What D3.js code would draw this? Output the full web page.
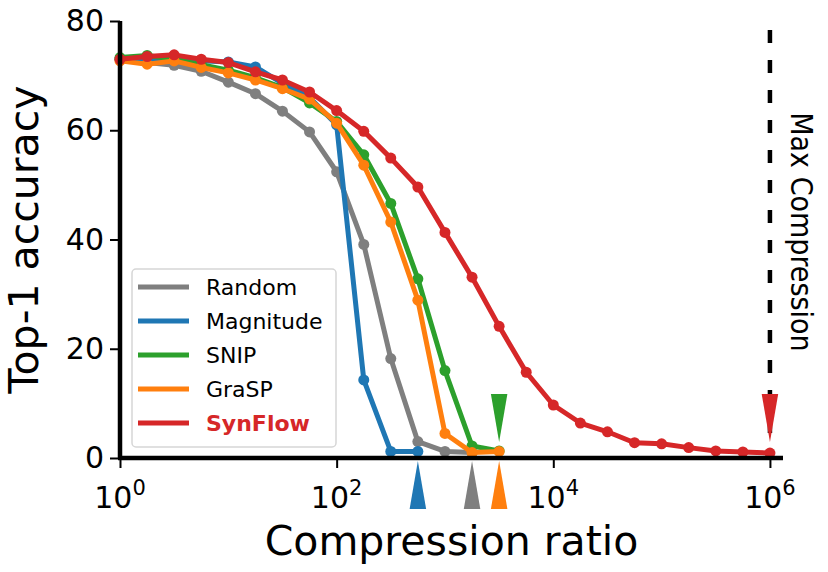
<!DOCTYPE html>
<html>
<head>
<meta charset="utf-8">
<script src="https://cdn.jsdelivr.net/npm/d3@7"></script>
<style>
  body { margin: 0; background: #fff; }
  svg { font-family: "DejaVu Sans", sans-serif; }
</style>
</head>
<body>
<script>
// compression ratios (log-spaced, quarter decades)
const ratios = [1, 1.78, 3.16, 5.62, 10, 17.8, 31.6, 56.2, 100, 178, 316, 562, 1000,
                1778, 3162, 5623, 10000, 17783, 31623, 56234, 100000, 177828, 316228, 562341, 1000000];

const methods = ['Random', 'Magnitude', 'SNIP', 'GraSP', 'SynFlow'];
const colors = ['#7f7f7f', '#1f77b4', '#2ca02c', '#ff7f0e', '#d62728'];

const randomAcc = [73.0, 72.4, 71.9, 70.8, 68.8, 66.7, 63.5, 59.7, 52.4, 39.1, 18.2, 3.0, 1.2, 1.0];
const magnitudeAcc = [73.0, 73.0, 73.0, 72.7, 72.5, 71.6, 68.6, 66.0, 61.0, 14.3, 1.2, 1.2];
const snipAcc = [73.3, 73.7, 73.0, 72.0, 71.0, 69.6, 67.8, 65.0, 61.6, 55.5, 46.6, 32.8, 16.0, 2.2, 1.3];
const graspAcc = [72.7, 72.1, 72.7, 71.5, 70.5, 69.2, 67.6, 65.7, 61.3, 53.6, 43.2, 28.9, 4.5, 1.0, 1.2];
const synflowAcc = [73.0, 73.5, 73.8, 73.0, 72.4, 70.7, 69.2, 67.0, 63.6, 59.8, 54.9, 49.6, 41.3,
                    33.1, 24.1, 15.7, 9.7, 6.4, 4.8, 2.8, 2.6, 1.9, 1.3, 1.1, 0.9];
const series = [randomAcc, magnitudeAcc, snipAcc, graspAcc, synflowAcc];

// triangle markers: ratio where each method collapses, and whether above axis
const arrowRatios = [1778, 562, 3162, 3162, 1000000];
const arrowAbove = [false, false, true, false, true];

const maxCompression = 1000000;
const yTicks = [0, 20, 40, 60, 80];
const xTicks = [1, 100, 10000, 1000000];
const xTickExp = ['0', '2', '4', '6'];

const width = 828, height = 572;
const plotLeft = 120, plotTop = 21, plotRight = 783, plotBottom = 458;

const svg = d3.select('body').append('svg')
    .attr('width', width)
    .attr('height', height);

const x = d3.scaleLog()
    .domain([1, 1320000])
    .range([plotLeft, plotRight]);

const y = d3.scaleLinear()
    .domain([0, 80])
    .range([plotBottom, plotTop]);

// max compression dashed line
svg.append('line')
    .attr('x1', x(maxCompression)).attr('x2', x(maxCompression))
    .attr('y1', 30).attr('y2', plotBottom)
    .attr('stroke', '#000')
    .attr('stroke-width', 4.5)
    .attr('stroke-dasharray', '13,17');

svg.append('text')
    .attr('transform', `translate(791, 232) rotate(90)`)
    .attr('text-anchor', 'middle')
    .style('font-family', '"DejaVu Sans Condensed", "DejaVu Sans", sans-serif')
    .style('font-size', '30px')
    .text('Max Compression');

// lines and dots
const line = d3.line()
    .x((d, i) => x(ratios[i]))
    .y(d => y(d));

series.forEach((vals, s) => {
    const g = svg.append('g');
    g.append('path')
        .datum(vals)
        .attr('d', line)
        .attr('fill', 'none')
        .attr('stroke', colors[s])
        .attr('stroke-width', 5)
        .attr('stroke-linejoin', 'round');
    g.selectAll('circle')
        .data(vals)
        .enter()
        .append('circle')
            .attr('cx', (d, i) => x(ratios[i]))
            .attr('cy', d => y(d))
            .attr('r', 5.5)
            .attr('fill', colors[s]);
});

// axes
const yAxis = svg.append('g')
    .attr('transform', `translate(${plotLeft},0)`)
    .call(d3.axisLeft(y).tickValues(yTicks).tickSize(10).tickPadding(6));
yAxis.select('.domain').attr('stroke-width', 4.5).attr('d', `M0,${plotTop}V${plotBottom}`);
yAxis.selectAll('.tick line').attr('stroke-width', 2);
yAxis.selectAll('.tick text').style('font-size', '30px').style('font-family', '"DejaVu Sans", sans-serif');

const xAxis = svg.append('g')
    .attr('transform', `translate(0,${plotBottom})`)
    .call(d3.axisBottom(x).tickValues(xTicks).tickSize(10).tickFormat(''));
xAxis.select('.domain').attr('stroke-width', 4.5).attr('d', `M${plotLeft - 2},0H${plotRight}`);
xAxis.selectAll('.tick line').attr('stroke-width', 2);

xTicks.forEach((t, i) => {
    const tx = svg.append('text')
        .attr('x', x(t))
        .attr('y', 508)
        .attr('text-anchor', 'middle')
        .style('font-size', '30px');
    tx.append('tspan').text('10');
    tx.append('tspan')
        .attr('dy', -13)
        .style('font-size', '21px')
        .text(xTickExp[i]);
});

// triangle markers
const triW = 16.5, triH = 48;
arrowRatios.forEach((r, i) => {
    const cx = x(r);
    const pts = arrowAbove[i]
        ? [[cx - triW / 2, 394], [cx + triW / 2, 394], [cx, 394 + triH]]
        : [[cx - triW / 2, 509], [cx + triW / 2, 509], [cx, 509 - triH]];
    svg.append('polygon')
        .attr('points', pts.map(p => p.join(',')).join(' '))
        .attr('fill', colors[i]);
});

// axis labels
svg.append('text')
    .attr('x', (plotLeft + plotRight) / 2)
    .attr('y', 555)
    .attr('text-anchor', 'middle')
    .style('font-size', '41px')
    .text('Compression ratio');

svg.append('text')
    .attr('transform', `translate(38, ${(plotTop + plotBottom) / 2}) rotate(-90)`)
    .attr('text-anchor', 'middle')
    .style('font-size', '41px')
    .text('Top-1 accuracy');

// legend
const legend = svg.append('g');
legend.append('rect')
    .attr('x', 132).attr('y', 269)
    .attr('width', 204).attr('height', 178)
    .attr('rx', 4)
    .attr('fill', 'rgba(255,255,255,0.8)')
    .attr('stroke', '#d6d6d6')
    .attr('stroke-width', 1.5);

const legendY = d3.scalePoint()
    .domain(methods)
    .range([287, 423]);

methods.forEach((m, i) => {
    const ly = legendY(m);
    legend.append('line')
        .attr('x1', 138).attr('x2', 189)
        .attr('y1', ly).attr('y2', ly)
        .attr('stroke', colors[i])
        .attr('stroke-width', 5);
    legend.append('text')
        .attr('x', 206)
        .attr('y', ly)
        .attr('dy', '0.36em')
        .style('font-size', '22px')
        .style('font-weight', m === 'SynFlow' ? 'bold' : 'normal')
        .attr('fill', m === 'SynFlow' ? colors[i] : '#000')
        .text(m);
});
</script>
</body>
</html>
